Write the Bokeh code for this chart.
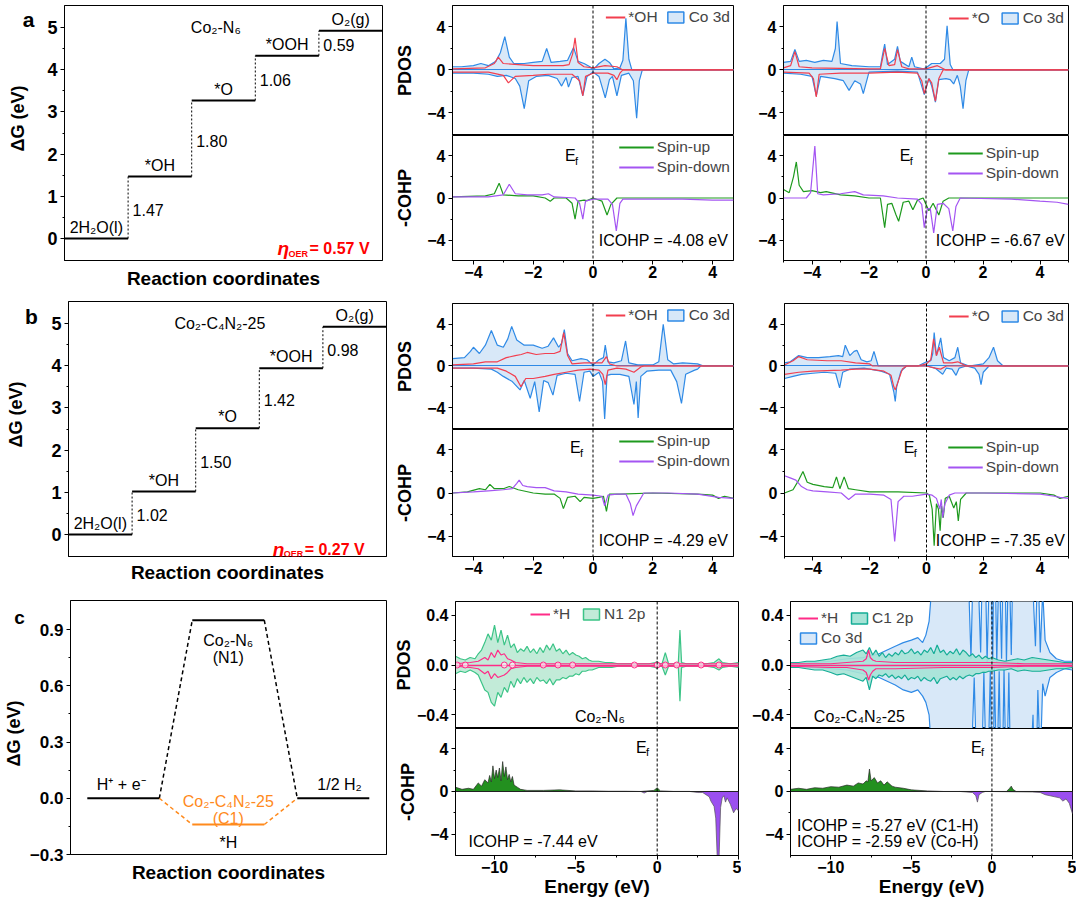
import numpy as np
from bokeh.plotting import figure
from bokeh.models import Label, Span, Legend, LegendItem, FixedTicker, PrintfTickFormatter, Range1d
from bokeh.layouts import row, column
from bokeh.embed import file_html
from bokeh.resources import INLINE

# ------------------------------------------------------------------ data
OER_SPECIES = ["2H₂O(l)", "*OH", "*O", "*OOH", "O₂(g)"]
OER_A_LEVELS = [0.0, 1.47, 3.27, 4.33, 4.92]
OER_A_STEPS = ["1.47", "1.80", "1.06", "0.59"]
OER_A_ETA = "0.57"
OER_B_LEVELS = [0.0, 1.02, 2.52, 3.94, 4.92]
OER_B_STEPS = ["1.02", "1.50", "1.42", "0.98"]
OER_B_ETA = "0.27"

HER_START, HER_N1, HER_C1, HER_END = 0.0, 0.95, -0.14, 0.0

ICOHP_A_MID, ICOHP_A_RIGHT = "-4.08", "-6.67"
ICOHP_B_MID, ICOHP_B_RIGHT = "-4.29", "-7.35"
ICOHP_C_MID, ICOHP_C_RIGHT_C1, ICOHP_C_RIGHT_CO = "-7.44", "-5.27", "-2.59"

# panel a, Co2-N6 with *OH (energy, PDOS)
A_MID_CO_UP = [(-4.7,0.3),(-4.4,0.3),(-4.0,0.4),(-3.75,0.6),(-3.5,0.4),(-3.25,0.8),(-3.1,1.6),(-2.95,3.1),(-2.8,1.2),(-2.65,0.6),(-2.3,0.6),(-2.0,0.7),(-1.7,0.8),(-1.55,2.0),(-1.4,0.7),(-1.1,0.8),(-0.85,0.9),(-0.65,2.1),(-0.5,0.8),(-0.3,0.6),(-0.1,0.3),(0.0,0.0),(0.2,0.6),(0.4,1.0),(0.55,0.7),(0.7,0.1),(0.9,0.2),(1.0,0.9),(1.1,4.8),(1.2,1.0),(1.3,0.0),(4.7,0.0)]
A_MID_CO_DN = [(-4.7,-0.3),(-4.0,-0.3),(-3.5,-0.4),(-3.2,-0.6),(-2.9,-0.5),(-2.6,-0.8),(-2.45,-1.5),(-2.3,-3.6),(-2.15,-1.0),(-1.9,-0.6),(-1.5,-0.5),(-1.2,-0.8),(-1.05,-1.5),(-0.9,-0.7),(-0.82,-1.6),(-0.7,-0.7),(-0.5,-0.6),(-0.34,-2.4),(-0.2,-0.6),(0.0,-0.2),(0.2,-0.6),(0.41,-2.6),(0.55,-0.9),(0.65,-0.6),(0.8,-2.4),(0.95,-0.5),(1.2,-0.3),(1.35,-1.0),(1.46,-4.5),(1.55,-1.0),(1.65,0.0),(4.7,0.0)]
A_MID_ADS_UP = [(-4.7,0.1),(-3.6,0.2),(-3.3,0.6),(-3.17,1.2),(-3.0,0.6),(-2.5,0.5),(-2.0,0.4),(-1.5,0.4),(-1.0,0.4),(-0.8,0.5),(-0.68,1.5),(-0.6,3.0),(-0.5,0.7),(-0.3,0.3),(0.0,0.2),(0.4,0.4),(0.8,0.3),(1.0,0.0),(4.7,0.0)]
A_MID_ADS_DN = [(-4.7,-0.2),(-3.5,-0.2),(-3.0,-0.5),(-2.83,-1.2),(-2.6,-0.6),(-2.0,-0.5),(-1.5,-0.4),(-1.0,-0.4),(-0.7,-0.4),(-0.45,-1.0),(-0.34,-2.4),(-0.25,-0.6),(0.0,-0.3),(0.5,-0.3),(0.7,-0.5),(0.8,-0.9),(0.9,-0.3),(1.0,0.0),(4.7,0.0)]
A_MID_COHP_UP = [(-4.7,0.1),(-3.6,0.2),(-3.3,0.4),(-3.14,1.4),(-3.0,0.3),(-2.5,0.2),(-2.0,0.2),(-1.6,0.0),(-1.43,-0.3),(-1.3,0.0),(-0.9,0.0),(-0.7,-0.5),(-0.6,-2.0),(-0.5,-0.3),(-0.3,-0.2),(-0.2,-0.25),(0.0,0.0),(0.3,-0.3),(0.47,-1.6),(0.6,-0.6),(0.8,0.0),(4.7,0.0)]
A_MID_COHP_DN = [(-4.7,0.1),(-3.5,0.1),(-3.0,0.3),(-2.8,1.3),(-2.6,0.4),(-2.2,0.3),(-1.7,0.3),(-1.49,0.4),(-1.3,0.1),(-0.6,0.0),(-0.45,-0.5),(-0.34,-2.0),(-0.25,-0.3),(0.0,-0.1),(0.5,-0.1),(0.65,-0.6),(0.78,-3.1),(0.9,-0.5),(1.0,-0.1),(2.0,-0.1),(3.0,-0.1),(4.0,-0.2),(4.7,-0.2)]

# panel a, Co2-N6 with *O
A_RIGHT_CO_UP = [(-5.0,0.7),(-4.75,0.8),(-4.6,1.9),(-4.45,0.8),(-4.2,0.9),(-3.9,0.7),(-3.6,0.9),(-3.3,0.8),(-3.18,2.0),(-3.12,4.5),(-3.0,0.6),(-2.6,0.4),(-2.0,0.3),(-1.6,0.3),(-1.52,1.5),(-1.45,2.4),(-1.35,0.5),(-1.1,1.0),(-1.0,2.2),(-0.9,0.8),(-0.6,0.3),(-0.5,1.2),(-0.4,0.3),(-0.1,0.1),(0.0,0.2),(0.2,0.6),(0.5,0.6),(0.65,1.0),(0.74,4.1),(0.85,0.5),(0.95,0.0),(5.0,0.0)]
A_RIGHT_CO_DN = [(-5.0,-0.3),(-4.4,-0.4),(-4.0,-0.6),(-3.85,-2.4),(-3.7,-0.6),(-3.2,-0.8),(-2.9,-1.0),(-2.7,-1.9),(-2.5,-1.0),(-2.3,-1.3),(-2.2,-2.2),(-2.0,-0.2),(-1.0,-0.1),(-0.3,-0.2),(-0.06,-2.3),(0.1,-0.8),(0.2,-1.5),(0.33,-3.0),(0.45,-0.9),(0.7,-0.8),(0.85,-0.9),(0.97,-1.3),(1.1,-0.5),(1.2,-1.5),(1.3,-3.6),(1.4,-1.0),(1.5,0.0),(5.0,0.0)]
A_RIGHT_ADS_UP = [(-5.0,0.2),(-4.75,0.4),(-4.6,1.7),(-4.45,0.3),(-4.0,0.2),(-2.0,0.1),(-1.6,0.1),(-1.45,2.0),(-1.3,0.4),(-1.1,0.5),(-1.0,1.9),(-0.85,0.3),(-0.6,0.1),(0.0,0.1),(0.4,0.4),(0.7,0.0),(5.0,0.0)]
A_RIGHT_ADS_DN = [(-5.0,-0.2),(-4.1,-0.3),(-3.95,-0.8),(-3.85,-2.5),(-3.75,-0.4),(-3.0,-0.3),(-2.0,-0.3),(-1.0,-0.2),(-0.3,-0.3),(-0.15,-1.0),(-0.06,-2.2),(0.1,-0.8),(0.2,-1.2),(0.33,-2.9),(0.45,-0.8),(0.6,0.0),(5.0,0.0)]
A_RIGHT_COHP_UP = [(-5.0,0.8),(-4.8,0.5),(-4.65,2.0),(-4.55,3.4),(-4.45,1.2),(-4.3,0.6),(-4.0,0.7),(-3.7,0.5),(-3.5,0.6),(-3.0,0.3),(-2.5,0.2),(-2.0,0.0),(-1.6,0.0),(-1.45,-2.8),(-1.35,-0.6),(-1.2,-0.5),(-1.05,-1.6),(-0.96,-2.2),(-0.8,-0.4),(-0.6,-0.3),(-0.46,-1.1),(-0.3,-0.2),(-0.1,0.0),(0.1,-1.2),(0.25,-0.5),(0.45,-1.6),(0.6,-0.3),(0.8,0.0),(5.0,0.0)]
A_RIGHT_COHP_DN = [(-5.0,0.0),(-4.2,0.0),(-4.05,0.5),(-3.9,4.9),(-3.8,0.4),(-3.6,0.3),(-3.0,0.4),(-2.5,0.6),(-2.2,0.3),(-1.5,0.2),(-1.0,0.0),(-0.3,-0.1),(-0.15,-0.6),(-0.06,-2.8),(0.05,-1.0),(0.15,-1.0),(0.27,-3.3),(0.4,-0.6),(0.6,-0.5),(0.8,-1.0),(0.94,-3.1),(1.05,-0.8),(1.2,0.0),(3.0,-0.1),(4.0,-0.3),(4.6,-0.4),(5.0,-0.6)]

# panel b, Co2-C4N2-25 with *OH
B_MID_CO_UP = [(-4.7,0.7),(-4.3,0.8),(-4.1,1.4),(-4.0,1.8),(-3.8,1.2),(-3.6,2.0),(-3.4,3.4),(-3.2,2.0),(-3.0,1.8),(-2.85,2.6),(-2.72,3.8),(-2.55,2.5),(-2.3,2.0),(-2.0,2.0),(-1.7,1.7),(-1.5,1.9),(-1.32,2.7),(-1.15,1.8),(-1.05,2.2),(-0.96,3.5),(-0.85,1.2),(-0.7,0.5),(-0.4,0.7),(-0.2,0.6),(0.0,0.1),(0.2,0.6),(0.35,0.8),(0.41,2.0),(0.5,0.4),(0.7,0.3),(0.95,0.5),(1.09,2.4),(1.2,0.3),(1.5,0.1),(2.0,0.1),(2.2,0.4),(2.35,4.0),(2.5,0.6),(2.7,0.2),(3.0,0.3),(3.5,0.2),(3.7,0.0),(4.7,0.0)]
B_MID_CO_DN = [(-4.7,-0.2),(-4.0,-0.2),(-3.4,-0.3),(-3.2,-0.6),(-3.0,-1.0),(-2.7,-1.5),(-2.44,-2.3),(-2.3,-1.4),(-2.1,-3.1),(-1.95,-1.5),(-1.8,-4.4),(-1.65,-1.4),(-1.5,-1.6),(-1.34,-2.8),(-1.2,-0.9),(-0.9,-0.7),(-0.6,-0.8),(-0.45,-3.4),(-0.3,-0.6),(-0.1,-0.5),(0.0,-1.0),(0.2,-0.6),(0.32,-1.5),(0.39,-5.1),(0.47,-0.9),(0.6,-0.8),(0.9,-0.8),(1.2,-1.0),(1.37,-3.7),(1.45,-1.5),(1.51,-5.0),(1.6,-1.0),(1.8,-0.5),(2.2,-0.4),(2.6,-0.4),(2.8,-1.5),(2.96,-3.6),(3.1,-0.8),(3.4,-0.4),(3.5,-0.3),(3.6,0.0),(4.7,0.0)]
B_MID_ADS_UP = [(-4.7,0.1),(-4.0,0.2),(-3.6,0.4),(-3.2,0.4),(-2.9,0.8),(-2.6,1.0),(-2.4,1.1),(-2.2,1.3),(-1.9,1.1),(-1.6,1.2),(-1.3,1.2),(-1.1,1.4),(-0.98,3.2),(-0.85,1.0),(-0.7,0.2),(-0.3,0.3),(0.0,0.3),(0.3,0.3),(0.45,0.9),(0.55,0.2),(0.8,0.0),(4.7,0.0)]
B_MID_ADS_DN = [(-4.7,-0.2),(-3.2,-0.2),(-2.9,-0.5),(-2.6,-1.0),(-2.41,-2.0),(-2.25,-1.2),(-2.0,-1.2),(-1.6,-1.0),(-1.3,-0.8),(-0.9,-0.6),(-0.5,-0.4),(-0.1,-0.3),(0.2,-0.4),(0.33,-0.8),(0.41,-1.8),(0.5,-0.4),(0.8,-0.2),(1.1,-0.3),(1.37,-0.6),(1.6,-0.1),(1.7,0.0),(4.7,0.0)]
B_MID_COHP_UP = [(-4.7,0.0),(-4.2,0.1),(-3.8,0.4),(-3.6,0.3),(-3.45,0.8),(-3.3,0.4),(-3.0,0.4),(-2.8,0.6),(-2.5,0.3),(-2.0,0.0),(-1.6,-0.1),(-1.3,-0.1),(-1.1,-0.5),(-0.99,-1.45),(-0.85,-0.4),(-0.6,-0.3),(-0.43,-0.8),(-0.3,-0.4),(0.0,-0.5),(0.2,-0.4),(0.35,-0.3),(0.45,-1.7),(0.55,-0.1),(0.9,-0.1),(2.0,0.0),(3.5,-0.1),(4.0,-0.2),(4.2,-0.5),(4.4,-0.3),(4.7,-0.5)]
B_MID_COHP_DN = [(-4.7,0.0),(-4.0,0.1),(-3.5,0.2),(-3.0,0.3),(-2.7,0.4),(-2.55,0.9),(-2.47,1.2),(-2.35,0.7),(-2.2,0.6),(-1.9,0.5),(-1.6,0.5),(-1.3,0.2),(-0.9,0.1),(-0.5,-0.1),(0.0,-0.2),(0.3,-0.3),(0.39,-1.2),(0.5,-0.2),(0.8,-0.1),(1.1,-0.1),(1.25,-1.0),(1.34,-2.1),(1.45,-1.2),(1.7,0.0),(2.5,0.0),(3.5,-0.1),(4.2,-0.4),(4.7,-0.5)]

# panel b, Co2-C4N2-25 with *O
B_RIGHT_CO_UP = [(-5.0,0.3),(-4.8,0.4),(-4.5,1.0),(-4.2,0.8),(-3.8,0.8),(-3.4,0.9),(-3.1,1.0),(-2.95,0.9),(-2.86,2.0),(-2.7,1.0),(-2.55,1.4),(-2.45,1.5),(-2.3,0.6),(-2.1,0.4),(-1.95,0.5),(-1.85,1.4),(-1.7,0.0),(-1.0,0.0),(-0.3,0.0),(0.0,0.4),(0.15,0.5),(0.22,1.2),(0.27,3.2),(0.35,1.0),(0.42,1.8),(0.5,2.7),(0.6,0.8),(0.8,0.5),(1.0,0.8),(1.1,1.8),(1.2,0.3),(1.5,0.0),(2.0,0.2),(2.2,0.8),(2.36,1.8),(2.5,0.5),(2.7,0.0),(5.0,0.0)]
B_RIGHT_CO_DN = [(-5.0,-1.2),(-4.7,-1.0),(-4.4,-0.8),(-4.0,-0.7),(-3.6,-0.6),(-3.2,-0.7),(-3.06,-2.1),(-2.95,-0.6),(-2.7,-0.3),(-2.2,-0.2),(-1.6,-0.5),(-1.3,-0.8),(-1.15,-2.5),(-1.1,-3.4),(-1.05,-2.0),(-0.9,-0.5),(-0.7,0.0),(0.0,0.0),(0.3,-0.2),(0.57,-0.8),(0.7,-0.2),(0.9,-0.3),(1.04,-0.9),(1.15,-0.2),(1.4,0.0),(1.7,-0.2),(1.85,-0.8),(1.92,-1.8),(2.0,-0.6),(2.2,0.0),(5.0,0.0)]
B_RIGHT_ADS_UP = [(-5.0,0.1),(-4.7,0.5),(-4.5,0.9),(-4.2,0.6),(-3.5,0.5),(-3.0,0.5),(-2.5,0.3),(-2.0,0.2),(-1.9,0.0),(-0.3,0.0),(0.0,0.2),(0.15,0.6),(0.25,2.6),(0.35,1.0),(0.45,1.8),(0.6,0.3),(0.9,0.3),(1.1,0.4),(1.4,0.0),(5.0,0.0)]
B_RIGHT_ADS_DN = [(-5.0,-0.8),(-4.5,-0.6),(-4.0,-0.5),(-3.0,-0.4),(-2.5,-0.3),(-2.0,-0.3),(-1.5,-0.5),(-1.25,-0.9),(-1.15,-2.0),(-1.1,-2.3),(-1.0,-1.5),(-0.85,-0.3),(-0.7,0.0),(0.0,0.0),(0.3,-0.2),(0.5,-0.3),(0.7,0.0),(5.0,0.0)]
B_RIGHT_COHP_UP = [(-5.0,0.0),(-4.7,0.3),(-4.5,1.2),(-4.35,2.0),(-4.2,1.0),(-4.0,0.8),(-3.6,0.6),(-3.3,0.5),(-3.17,1.5),(-3.05,0.4),(-2.9,1.5),(-2.75,0.4),(-2.5,0.3),(-2.0,0.1),(-1.0,0.1),(0.0,0.0),(0.1,-0.2),(0.2,-1.5),(0.27,-4.9),(0.35,-1.0),(0.42,-1.5),(0.48,-3.5),(0.53,-1.2),(0.59,-2.3),(0.66,-0.5),(0.8,-0.3),(0.96,-1.4),(1.05,-0.8),(1.12,-2.6),(1.2,-0.6),(1.4,0.0),(4.0,0.0),(4.5,-0.2),(4.7,-0.5),(5.0,-0.3)]
B_RIGHT_COHP_DN = [(-5.0,1.6),(-4.8,1.4),(-4.6,1.2),(-4.4,0.6),(-4.2,0.3),(-4.0,0.2),(-3.5,0.1),(-3.0,0.0),(-2.74,-0.6),(-2.5,-0.1),(-2.0,-0.1),(-1.5,-0.2),(-1.25,-0.6),(-1.12,-4.5),(-1.0,-0.8),(-0.8,-0.3),(-0.5,-0.3),(0.0,-0.1),(0.2,-0.2),(0.35,-0.5),(0.47,-1.5),(0.52,-0.6),(0.57,-2.3),(0.65,-1.0),(0.8,-0.2),(1.0,0.0),(2.0,0.0),(4.0,-0.1),(4.5,-0.3),(4.7,-0.4),(5.0,-0.5)]

# panel c, Co2-N6 (N1 site) with *H
C_MID_X = [-12.4,-12.1,-11.8,-11.5,-11.2,-11.0,-10.8,-10.6,-10.4,-10.2,-10.0,-9.8,-9.6,-9.4,-9.2,-9.0,-8.8,-8.6,-8.4,-8.2,-8.0,-7.8,-7.6,-7.4,-7.2,-7.0,-6.8,-6.6,-6.4,-6.2,-6.0,-5.8,-5.6,-5.4,-5.2,-5.0,-4.8,-4.6,-4.4,-4.2,-4.0,-3.6,-3.2,-2.8,-2.4,-2.0,-1.5,-1.0,-0.5,-0.1,0.0,0.1,0.3,0.5,0.7,1.0,1.3,1.4,1.5,1.8,2.5,3.0,3.5,3.8,4.0,4.5,5.0]
C_MID_N1_UP = [0.07,0.05,0.04,0.06,0.05,0.09,0.12,0.18,0.25,0.20,0.32,0.18,0.28,0.16,0.24,0.14,0.17,0.10,0.13,0.11,0.15,0.10,0.13,0.09,0.14,0.10,0.16,0.12,0.17,0.11,0.13,0.09,0.12,0.08,0.10,0.08,0.07,0.05,0.06,0.04,0.03,0.03,0.02,0.02,0.01,0.01,0.01,0.01,0.01,0.02,0.03,0.01,0.01,0.10,0.01,0.01,0.02,0.28,0.02,0.01,0.01,0.01,0.02,0.05,0.02,0.01,0.02]
C_MID_N1_DN = [-0.07,-0.05,-0.06,-0.04,-0.06,-0.08,-0.14,-0.20,-0.22,-0.30,-0.33,-0.22,-0.26,-0.18,-0.22,-0.13,-0.18,-0.11,-0.15,-0.10,-0.14,-0.11,-0.15,-0.10,-0.13,-0.12,-0.15,-0.11,-0.16,-0.12,-0.12,-0.10,-0.11,-0.09,-0.09,-0.07,-0.08,-0.05,-0.05,-0.04,-0.04,-0.02,-0.02,-0.02,-0.01,-0.01,-0.01,-0.01,-0.01,-0.02,-0.03,-0.01,-0.01,-0.08,-0.01,-0.01,-0.02,-0.29,-0.02,-0.01,-0.01,-0.01,-0.02,-0.04,-0.02,-0.01,-0.02]
C_MID_H_X = [-12.4,-11.5,-11.0,-10.6,-10.4,-10.2,-10.0,-9.8,-9.6,-9.4,-9.2,-9.0,-8.7,-8.0,-5.0,0.0,5.0]
C_MID_H_UP = [0.01,0.02,0.03,0.06,0.04,0.10,0.06,0.12,0.08,0.09,0.05,0.04,0.02,0.01,0.01,0.01,0.01]
C_MID_H_DN = [-0.01,-0.02,-0.03,-0.07,-0.05,-0.11,-0.07,-0.10,-0.09,-0.08,-0.06,-0.03,-0.02,-0.01,-0.01,-0.01,-0.01]
C_MID_H_MARKS = [-12.3,-11.8,-9.4,-8.9,-7.0,-6.1,-5.2,-1.4,0.0,0.5,1.2,2.7,3.8]
C_MID_COHP_UP = [(-12.4,0.4),(-12.0,0.2),(-11.6,0.3),(-11.3,0.2),(-11.0,0.8),(-10.8,0.5),(-10.6,1.1),(-10.4,0.8),(-10.3,1.5),(-10.2,0.9),(-10.1,2.4),(-10.0,1.2),(-9.9,2.0),(-9.8,1.3),(-9.7,2.2),(-9.6,1.0),(-9.5,2.8),(-9.4,1.4),(-9.3,2.3),(-9.2,1.1),(-9.1,1.6),(-9.0,0.9),(-8.9,1.4),(-8.8,0.6),(-8.6,0.4),(-8.4,0.2),(-8.0,0.1),(-7.0,0.1),(-6.0,0.15),(-5.0,0.05),(-4.0,0.05),(-3.0,0.02),(-2.0,0.02),(-1.0,0.0),(-0.2,0.1),(0.0,0.35),(0.2,0.05),(1.0,0.0),(2.0,0.0)]
C_MID_COHP_DN = [(-1.0,0.0),(-0.8,-0.15),(-0.6,0.0),(2.0,0.0),(2.5,-0.1),(2.8,-0.1),(3.0,-0.3),(3.2,-0.5),(3.3,-0.9),(3.5,-1.4),(3.6,-2.5),(3.7,-6.5),(3.8,-6.5),(3.9,-1.5),(4.0,-0.6),(4.1,-0.4),(4.2,-1.0),(4.3,-0.6),(4.5,-1.2),(4.7,-2.0),(4.85,-1.6),(5.0,-1.8)]

# panel c, Co2-C4N2-25 (C1 site) with *H
C_RIGHT_CO_X = [-12.5,-11.0,-10.0,-9.0,-8.0,-7.0,-6.5,-6.0,-5.5,-5.0,-4.6,-4.3,-4.1,-3.9,-3.75,-3.6,-3.4,-3.2,-3.0,-2.9,-2.7,-2.4,-2.0,-1.6,-1.3,-1.1,-0.9,-0.7,-0.5,-0.3,-0.1,0.05,0.15,0.3,0.45,0.6,0.75,0.9,1.05,1.2,1.35,1.5,1.7,2.0,2.3,2.55,2.7,2.85,3.0,3.15,3.3,3.6,4.0,4.5,5.0]
C_RIGHT_CO_UP = [0.01,0.02,0.03,0.05,0.06,0.09,0.12,0.15,0.18,0.2,0.22,0.18,0.24,0.35,0.6,0.9,1.2,1.5,1.0,1.4,1.8,2.0,1.6,1.3,0.05,1.2,0.9,0.1,1.5,0.02,1.1,0.03,1.3,0.02,0.9,0.05,1.4,0.02,1.0,0.08,1.2,0.9,1.5,1.8,1.0,0.6,0.15,0.9,0.1,0.6,0.2,0.1,0.05,0.03,0.03]
C_RIGHT_CO_DN = [-0.01,-0.02,-0.03,-0.04,-0.07,-0.1,-0.13,-0.16,-0.2,-0.22,-0.2,-0.25,-0.3,-0.4,-0.7,-1.0,-1.4,-1.2,-0.9,-1.5,-1.6,-1.8,-1.5,-1.2,-0.9,-0.1,-1.1,-1.3,-0.05,-1.2,-0.04,-1.4,-0.02,-1.0,-0.05,-1.3,-0.03,-1.1,-0.06,-1.2,-0.9,-1.3,-1.5,-1.6,-1.1,-0.4,-1.2,-0.2,-0.8,-0.15,-0.25,-0.1,-0.06,-0.03,-0.04]
C_RIGHT_C1_X = [-12.5,-12.0,-11.5,-11.0,-10.5,-10.0,-9.6,-9.2,-8.8,-8.4,-8.0,-7.8,-7.6,-7.4,-7.2,-7.0,-6.8,-6.6,-6.4,-6.2,-6.0,-5.8,-5.6,-5.4,-5.2,-5.0,-4.8,-4.6,-4.4,-4.2,-4.0,-3.8,-3.6,-3.4,-3.2,-3.0,-2.8,-2.6,-2.4,-2.2,-2.0,-1.8,-1.6,-1.4,-1.2,-1.0,-0.8,-0.6,-0.4,-0.2,0.0,0.4,0.8,1.2,1.6,2.0,2.5,3.0,3.5,4.0,4.5,5.0]
C_RIGHT_C1_UP = [0.02,0.02,0.03,0.03,0.04,0.05,0.07,0.08,0.07,0.10,0.12,0.09,0.14,0.08,0.12,0.07,0.10,0.06,0.09,0.07,0.10,0.08,0.12,0.09,0.10,0.13,0.09,0.11,0.08,0.12,0.10,0.14,0.09,0.16,0.10,0.12,0.08,0.11,0.09,0.13,0.08,0.12,0.10,0.07,0.09,0.06,0.08,0.05,0.07,0.05,0.06,0.04,0.03,0.04,0.05,0.04,0.06,0.05,0.04,0.03,0.02,0.02]
C_RIGHT_C1_DN = [-0.02,-0.02,-0.03,-0.04,-0.04,-0.06,-0.08,-0.07,-0.09,-0.11,-0.13,-0.10,-0.20,-0.09,-0.11,-0.08,-0.09,-0.07,-0.10,-0.08,-0.11,-0.09,-0.11,-0.08,-0.12,-0.10,-0.11,-0.09,-0.13,-0.10,-0.12,-0.13,-0.10,-0.15,-0.11,-0.10,-0.09,-0.12,-0.10,-0.12,-0.09,-0.11,-0.09,-0.08,-0.09,-0.07,-0.07,-0.06,-0.06,-0.05,-0.05,-0.04,-0.04,-0.03,-0.05,-0.04,-0.05,-0.05,-0.04,-0.03,-0.03,-0.02]
C_RIGHT_H_X = [-12.5,-10.0,-9.0,-8.0,-7.8,-7.65,-7.55,-7.4,-7.2,-6.0,-3.0,0.0,2.0,5.0]
C_RIGHT_H_UP = [0.01,0.01,0.02,0.03,0.05,0.12,0.06,0.04,0.03,0.02,0.02,0.02,0.01,0.01]
C_RIGHT_H_DN = [-0.01,-0.02,-0.02,-0.04,-0.06,-0.12,-0.08,-0.05,-0.03,-0.03,-0.02,-0.02,-0.01,-0.01]
C_RIGHT_COHP_UP = [(-12.5,0.2),(-12.0,0.3),(-11.5,0.2),(-11.0,0.35),(-10.5,0.3),(-10.0,0.45),(-9.5,0.4),(-9.0,0.6),(-8.6,0.5),(-8.3,0.8),(-8.0,0.7),(-7.8,1.0),(-7.7,0.9),(-7.6,2.1),(-7.5,1.0),(-7.3,1.3),(-7.1,0.8),(-6.9,1.0),(-6.7,0.6),(-6.5,0.9),(-6.2,0.5),(-6.0,0.4),(-5.5,0.3),(-5.0,0.15),(-4.0,0.05),(-3.0,0.0),(-1.0,0.0),(0.9,0.0),(1.1,0.3),(1.2,0.5),(1.3,0.2),(1.5,0.0),(3.0,0.0)]
C_RIGHT_COHP_DN = [(-2.0,0.0),(-1.2,-0.1),(-1.0,-0.4),(-0.9,-1.0),(-0.8,-0.3),(-0.6,-0.1),(-0.4,0.0),(2.5,-0.05),(3.0,-0.1),(3.3,-0.3),(3.6,-0.4),(3.9,-0.5),(4.2,-0.6),(4.4,-0.9),(4.6,-0.7),(4.8,-1.1),(4.9,-1.6),(5.0,-2.1)]

# ------------------------------------------------------------------ style
FONT = "Liberation Sans"
CO_LINE, CO_FILL = "#2f8ae6", "#d8e8f8"
ADS_RED = "#f23f4f"
SPIN_UP, SPIN_DN = "#1e9a1e", "#a455f2"
N1_LINE, N1_FILL = "#3cc487", "#c2ebd8"
H_PINK = "#ff2b87"
C1_LINE, C1_FILL = "#16ad97", "#a6e3d6"
G_FILL, P_FILL = "#23901f", "#9b4ff0"
ORANGE = "#ff8a1c"
ETA_RED = "#ff0000"
TXT = "16px"
MINUS = "\u2212"


def unzip(pairs):
    return [a for a, _ in pairs], [b for _, b in pairs]


def neg_labels(ticks, fmt="{:g}"):
    return {t: MINUS + fmt.format(-t) for t in ticks if t < 0}


def base(xr, yr, fw, fh, bl, br, bt, bb, xaxis=True, yaxis=True, tick_size="16px"):
    p = figure(x_range=xr, y_range=yr, frame_width=fw, frame_height=fh,
               min_border_left=bl, min_border_right=br, min_border_top=bt, min_border_bottom=bb,
               x_axis_location="below" if xaxis else None,
               y_axis_location="left" if yaxis else None,
               output_backend="svg", toolbar_location=None, title=None)
    p.grid.visible = False
    p.outline_line_color = "black"
    p.outline_line_width = 1
    p.background_fill_color = "white"
    p.border_fill_color = "white"
    for ax in p.axis:
        ax.axis_line_color = "black"
        ax.major_tick_line_color = "black"
        ax.minor_tick_line_color = "black"
        ax.major_tick_out = 4
        ax.major_tick_in = 0
        ax.minor_tick_out = 2
        ax.minor_tick_in = 0
        ax.major_label_standoff = 3
        ax.major_label_text_font = FONT
        ax.major_label_text_font_style = "bold"
        ax.major_label_text_font_size = tick_size
        ax.major_label_text_color = "black"
        ax.axis_label_text_font = FONT
        ax.axis_label_text_font_style = "bold"
        ax.axis_label_text_font_size = "18px"
        ax.axis_label_text_color = "black"
    return p


def add_text(p, x, y, s, size=TXT, color="black", style="normal", align="left",
             baseline="middle", xo=0, yo=0, **kw):
    p.add_layout(Label(x=x, y=y, text=s, text_font=FONT, text_font_size=size,
                       text_color=color, text_font_style=style, text_align=align,
                       text_baseline=baseline, x_offset=xo, y_offset=yo, **kw))


def add_ef(p, x, y):
    add_text(p, x, y, "E", size="16px")
    add_text(p, x, y, "f", size="11px", xo=10, yo=-5)


def box_item(p, label, fill, line):
    r = p.quad(left=[np.nan], right=[np.nan], top=[np.nan], bottom=[np.nan],
               fill_color=fill, line_color=line, line_width=1.5)
    return LegendItem(label=label, renderers=[r])


def line_item(p, label, color, width=2):
    r = p.line(x=[np.nan], y=[np.nan], line_color=color, line_width=width)
    return LegendItem(label=label, renderers=[r])


def add_legend(p, items, location, orientation="horizontal", glyph_w=20, spacing=8, margin=3):
    lg = Legend(items=items, location=location, orientation=orientation,
                glyph_width=glyph_w, glyph_height=14, label_standoff=3, spacing=spacing,
                padding=1, margin=margin, background_fill_alpha=0, border_line_alpha=0,
                label_text_font=FONT, label_text_font_size="15.5px", label_height=16)
    p.add_layout(lg)


def side_fig(width, height, letter, letter_xy, ylabel_xy, letter_size="21px"):
    # narrow strip left of a diagram: panel letter and the vertical axis title
    p = figure(x_range=Range1d(0, width), y_range=Range1d(height, 0),
               frame_width=width, frame_height=height,
               min_border_left=0, min_border_right=0, min_border_top=0, min_border_bottom=0,
               x_axis_location=None, y_axis_location=None,
               output_backend="svg", toolbar_location=None, title=None)
    p.outline_line_color = None
    p.grid.visible = False
    p.background_fill_color = "white"
    p.border_fill_color = "white"
    add_text(p, letter_xy[0], letter_xy[1], letter, size=letter_size, style="bold", align="center")
    add_text(p, ylabel_xy[0], ylabel_xy[1], "ΔG (eV)", size="18px", style="bold", align="center",
             angle=90, angle_units="deg")
    return p


# ------------------------------------------------------------------ OER diagrams
def oer_fig(levels, steps, title, eta, eta_xy, bt, fh, bb, xlab_s):
    p = base(Range1d(0, 5), Range1d(-0.52, 5.52), 318, fh, 20, 4, bt, bb, tick_size="18px")
    p.yaxis.ticker = FixedTicker(ticks=[0, 1, 2, 3, 4, 5], minor_ticks=[0.5, 1.5, 2.5, 3.5, 4.5])
    p.xaxis.ticker = FixedTicker(ticks=[])
    p.xaxis.major_tick_out = 0
    p.xaxis.minor_tick_out = 0
    p.xaxis.major_label_standoff = 0
    p.xaxis.axis_label = "Reaction coordinates"
    p.xaxis.axis_label_text_font_size = "19px"
    p.xaxis.axis_label_standoff = xlab_s

    idx = list(range(len(levels)))
    p.segment(x0=idx, y0=levels, x1=[i + 1 for i in idx], y1=levels, line_color="black", line_width=2)
    p.segment(x0=idx[1:], y0=levels[:-1], x1=idx[1:], y1=levels[1:],
              line_color="black", line_width=1, line_dash="2 2")
    for i, (lv, sp) in enumerate(zip(levels, OER_SPECIES)):
        add_text(p, i + 0.5, lv + 0.27, sp, align="center")
    for i, st in enumerate(steps):
        lo, hi = levels[i], levels[i + 1]
        add_text(p, i + 1.07, (lo + hi) / 2 - 0.05, st)
    add_text(p, 2.38, 5.0, title, align="center")
    ex, ey = eta_xy
    add_text(p, ex, ey, "η", size="19px", color=ETA_RED, style="bold italic")
    add_text(p, ex, ey, "OER", size="9px", color=ETA_RED, style="bold", xo=11, yo=-5)
    add_text(p, ex, ey, "= " + eta + " V", size="16px", color=ETA_RED, style="bold", xo=32)
    return p


def her_fig():
    p = base(Range1d(-0.16, 2.85), Range1d(-0.3, 1.055), 316, 254, 42, 4, 15, 47, tick_size="17px")
    hticks = [-0.3, 0.0, 0.3, 0.6, 0.9]
    p.yaxis.ticker = FixedTicker(ticks=hticks, minor_ticks=[-0.15, 0.15, 0.45, 0.75])
    p.yaxis.formatter = PrintfTickFormatter(format="%.1f")
    p.yaxis.major_label_overrides = neg_labels(hticks, "{:.1f}")
    p.xaxis.ticker = FixedTicker(ticks=[])
    p.xaxis.major_tick_out = 0
    p.xaxis.minor_tick_out = 0
    p.xaxis.major_label_standoff = 0
    p.xaxis.axis_label = "Reaction coordinates"
    p.xaxis.axis_label_text_font_size = "19px"
    p.xaxis.axis_label_standoff = 7

    slots, w = [0, 1, 2], 0.686
    lv = [HER_START, HER_N1, HER_END]
    p.segment(x0=[slots[0] + w, slots[1] + w], y0=[HER_START, HER_N1], x1=[slots[1], slots[2]],
              y1=[HER_N1, HER_END], line_color="black", line_width=1.5, line_dash="4 3")
    p.segment(x0=[slots[0] + w, slots[1] + w], y0=[HER_START, HER_C1], x1=[slots[1], slots[2]],
              y1=[HER_C1, HER_END], line_color=ORANGE, line_width=1.5, line_dash="4 3")
    p.segment(x0=slots, y0=lv, x1=[s + w for s in slots], y1=lv, line_color="black", line_width=2)
    p.segment(x0=[slots[1]], y0=[HER_C1], x1=[slots[1] + w], y1=[HER_C1], line_color=ORANGE, line_width=2)

    cx = slots[1] + w / 2
    add_text(p, cx, 0.84, "Co₂-N₆", size="16px", align="center")
    add_text(p, cx, 0.75, "(N1)", size="16px", align="center")
    add_text(p, cx, -0.015, "Co₂-C₄N₂-25", size="16px", color=ORANGE, align="center")
    add_text(p, cx, -0.11, "(C1)", size="16px", color=ORANGE, align="center")
    add_text(p, cx, -0.235, "*H", size="16px", align="center")
    add_text(p, slots[0] + w / 2 - 0.02, 0.075, "H⁺ + e⁻", size="16px", align="center")
    add_text(p, slots[2] + w / 2 + 0.06, 0.075, "1/2 H₂", size="16px", align="center")
    return p


# ------------------------------------------------------------------ PDOS / COHP columns
def dos_pair(xr, xt, xminor, pr, pt, pminor, pfmt, cr, fw, bl, br, bt, fhp, fhc, bb,
             ylabels, ps, cs, xlabel=None):
    xrange_ = Range1d(*xr)
    p1 = base(xrange_, Range1d(*pr), fw, fhp, bl, br, bt, 0, xaxis=False)
    p2 = base(xrange_, Range1d(*cr), fw, fhc, bl, br, 0, bb)
    p1.yaxis.ticker = FixedTicker(ticks=pt, minor_ticks=pminor)
    if pfmt:
        p1.yaxis.formatter = PrintfTickFormatter(format=pfmt)
        p1.yaxis.major_label_overrides = neg_labels(pt, "{:.1f}")
    else:
        p1.yaxis.major_label_overrides = neg_labels(pt)
    p2.yaxis.ticker = FixedTicker(ticks=[-4, 0, 4], minor_ticks=[-2, 2])
    p2.yaxis.major_label_overrides = neg_labels([-4, 0, 4])
    p2.xaxis.ticker = FixedTicker(ticks=xt, minor_ticks=xminor)
    p2.xaxis.major_label_overrides = neg_labels(xt)
    p2.xaxis.major_label_standoff = 1
    if ylabels:
        p1.yaxis.axis_label = "PDOS"
        p1.yaxis.axis_label_standoff = ps
        p2.yaxis.axis_label = "-COHP"
        p2.yaxis.axis_label_standoff = cs
    if xlabel:
        p2.xaxis.axis_label = xlabel
        p2.xaxis.axis_label_text_font_size = "19px"
        p2.xaxis.axis_label_standoff = 0
    return p1, p2


def ef_lines(p1, p2):
    for p in (p1, p2):
        p.add_layout(Span(location=0, dimension="height", line_color="black",
                          line_dash="3 2", line_width=1))


def draw_pdos_ab(p, co_up, co_dn, ads_up, ads_dn, ads_label, margin):
    for pairs in (co_up, co_dn):
        x, y = unzip(pairs)
        p.varea(x=x, y1=0, y2=y, fill_color=CO_FILL)
    p.hspan(y=[0], line_color=CO_LINE, line_width=1)
    for pairs in (co_up, co_dn):
        x, y = unzip(pairs)
        p.line(x, y, line_color=CO_LINE, line_width=1.2)
    for pairs in (ads_up, ads_dn):
        x, y = unzip(pairs)
        p.line(x, y, line_color=ADS_RED, line_width=1.2)
    items = [line_item(p, ads_label, ADS_RED), box_item(p, "Co 3d", CO_FILL, CO_LINE)]
    add_legend(p, items, "top_right", margin=margin)


def draw_cohp_ab(p, up, dn, margin):
    x, y = unzip(up)
    p.line(x, y, line_color=SPIN_UP, line_width=1.2)
    x, y = unzip(dn)
    p.line(x, y, line_color=SPIN_DN, line_width=1.2)
    add_legend(p, [line_item(p, "Spin-up", SPIN_UP), line_item(p, "Spin-down", SPIN_DN)],
               "top_right", orientation="vertical", glyph_w=35, spacing=2, margin=margin)


def draw_cohp_c(p, up, dn):
    x, y = unzip(up)
    p.varea(x=x, y1=0, y2=y, fill_color=G_FILL)
    p.line(x, y, line_color="#2a2a2a", line_width=0.7)
    x, y = unzip(dn)
    p.varea(x=x, y1=0, y2=y, fill_color=P_FILL)
    p.line(x, y, line_color="#555555", line_width=0.7)
    p.hspan(y=[0], line_color="#222222", line_width=1)


AB_XT, AB_XMINOR = [-4, -2, 0, 2, 4], [-5, -3, -1, 1, 3, 5]
PD_T, PD_MINOR = [-4, 0, 4], [-2, 2]

# ---- row a
a_side = side_fig(44, 290, "a", (28, 14), (17, 113))
a_left = oer_fig(OER_A_LEVELS, OER_A_STEPS, "Co₂-N₆", OER_A_ETA, (3.35, -0.24),
                 bt=5, fh=255, bb=30, xlab_s=7)
am1, am2 = dos_pair((-4.7, 4.7), AB_XT, AB_XMINOR, (-6.1, 6.0), PD_T, PD_MINOR, None, (-5.9, 5.9),
                    281, 66, 4, 5, 130, 125, 30, True, 9, 9)
draw_pdos_ab(am1, A_MID_CO_UP, A_MID_CO_DN, A_MID_ADS_UP, A_MID_ADS_DN, "*OH", 2)
draw_cohp_ab(am2, A_MID_COHP_UP, A_MID_COHP_DN, 2)
ef_lines(am1, am2)
add_ef(am2, -0.94, 4.0)
add_text(am2, 4.52, -4.0, "ICOHP = " + ICOHP_A_MID + " eV", align="right")

ar1, ar2 = dos_pair((-5, 5), AB_XT, AB_XMINOR, (-6.1, 6.0), PD_T, PD_MINOR, None, (-5.9, 5.9),
                    285, 46, 4, 5, 130, 125, 30, False, 0, 0)
draw_pdos_ab(ar1, A_RIGHT_CO_UP, A_RIGHT_CO_DN, A_RIGHT_ADS_UP, A_RIGHT_ADS_DN, "*O", 3)
draw_cohp_ab(ar2, A_RIGHT_COHP_UP, A_RIGHT_COHP_DN, 8)
ef_lines(ar1, ar2)
add_ef(ar2, -0.92, 4.0)
add_text(ar2, 4.88, -4.0, "ICOHP = " + ICOHP_A_RIGHT + " eV", align="right")

# ---- row b
b_side = side_fig(48, 292, "b", (31, 15), (15, 113))
b_left = oer_fig(OER_B_LEVELS, OER_B_STEPS, "Co₂-C₄N₂-25", OER_B_ETA, (3.21, -0.35),
                 bt=10, fh=255, bb=27, xlab_s=5)
bm1, bm2 = dos_pair((-4.7, 4.7), AB_XT, AB_XMINOR, (-6.1, 6.0), PD_T, PD_MINOR, None, (-5.9, 5.9),
                    281, 62, 4, 12, 126, 127, 27, True, 9, 9)
draw_pdos_ab(bm1, B_MID_CO_UP, B_MID_CO_DN, B_MID_ADS_UP, B_MID_ADS_DN, "*OH", 2)
draw_cohp_ab(bm2, B_MID_COHP_UP, B_MID_COHP_DN, 2)
ef_lines(bm1, bm2)
add_ef(bm2, -0.77, 4.2)
add_text(bm2, 4.52, -4.45, "ICOHP = " + ICOHP_B_MID + " eV", align="right")

br1, br2 = dos_pair((-5, 5), AB_XT, AB_XMINOR, (-6.1, 6.0), PD_T, PD_MINOR, None, (-5.9, 5.9),
                    284, 47, 4, 12, 126, 127, 27, False, 0, 0)
draw_pdos_ab(br1, B_RIGHT_CO_UP, B_RIGHT_CO_DN, B_RIGHT_ADS_UP, B_RIGHT_ADS_DN, "*O", 3)
draw_cohp_ab(br2, B_RIGHT_COHP_UP, B_RIGHT_COHP_DN, 8)
ef_lines(br1, br2)
add_ef(br2, -0.8, 4.2)
add_text(br2, 4.88, -4.45, "ICOHP = " + ICOHP_B_RIGHT + " eV", align="right")

# ---- row c
c_side = side_fig(26, 316, "c", (19, 17), (13, 133), letter_size="19px")
c_left = her_fig()
C_XT, C_XMINOR = [-10, -5, 0, 5], [-12.5, -7.5, -2.5, 2.5]
cm1, cm2 = dos_pair((-12.4, 5), C_XT, C_XMINOR, (-0.51, 0.51), [-0.4, 0.0, 0.4], [-0.2, 0.2], "%.1f",
                    (-6.0, 5.9), 283, 64, 4, 16, 127, 127, 46, True, 0, 9, xlabel="Energy (eV)")
cm1.varea(x=C_MID_X, y1=C_MID_N1_DN, y2=C_MID_N1_UP, fill_color=N1_FILL)
cm1.hspan(y=[0], line_color=N1_LINE, line_width=1)
cm1.line(C_MID_X, C_MID_N1_UP, line_color=N1_LINE, line_width=1.2)
cm1.line(C_MID_X, C_MID_N1_DN, line_color=N1_LINE, line_width=1.2)
cm1.hspan(y=[0], line_color=H_PINK, line_width=1.5)
cm1.line(C_MID_H_X, C_MID_H_UP, line_color=H_PINK, line_width=1.2)
cm1.line(C_MID_H_X, C_MID_H_DN, line_color=H_PINK, line_width=1.2)
cm1.scatter(x=C_MID_H_MARKS, y=[0.0] * len(C_MID_H_MARKS), size=6, marker="circle",
            fill_color="white", fill_alpha=0.6, line_color=H_PINK, line_width=1)
add_legend(cm1, [line_item(cm1, "*H", H_PINK), box_item(cm1, "N1 2p", N1_FILL, N1_LINE)],
           (74, 104), margin=0)
draw_cohp_c(cm2, C_MID_COHP_UP, C_MID_COHP_DN)
ef_lines(cm1, cm2)
add_ef(cm2, -1.3, 4.15)
add_text(cm1, -5.06, -0.41, "Co₂-N₆")
add_text(cm2, -11.6, -4.7, "ICOHP = " + ICOHP_C_MID + " eV")

cr1, cr2 = dos_pair((-12.5, 5), C_XT, C_XMINOR, (-0.51, 0.51), [-0.4, 0.0, 0.4], [-0.2, 0.2], "%.1f",
                    (-6.0, 5.9), 282, 48, 4, 16, 127, 127, 46, False, 0, 0, xlabel="Energy (eV)")
cr1.varea(x=C_RIGHT_CO_X, y1=C_RIGHT_CO_DN, y2=C_RIGHT_CO_UP, fill_color=CO_FILL)
cr1.line(C_RIGHT_CO_X, C_RIGHT_CO_UP, line_color=CO_LINE, line_width=1.2)
cr1.line(C_RIGHT_CO_X, C_RIGHT_CO_DN, line_color=CO_LINE, line_width=1.2)
cr1.varea(x=C_RIGHT_C1_X, y1=C_RIGHT_C1_DN, y2=C_RIGHT_C1_UP, fill_color=C1_FILL, fill_alpha=0.9)
cr1.hspan(y=[0], line_color=C1_LINE, line_width=1)
cr1.line(C_RIGHT_C1_X, C_RIGHT_C1_UP, line_color=C1_LINE, line_width=1.2)
cr1.line(C_RIGHT_C1_X, C_RIGHT_C1_DN, line_color=C1_LINE, line_width=1.2)
cr1.hspan(y=[0], line_color=H_PINK, line_width=1.5)
cr1.line(C_RIGHT_H_X, C_RIGHT_H_UP, line_color=H_PINK, line_width=1.2)
cr1.line(C_RIGHT_H_X, C_RIGHT_H_DN, line_color=H_PINK, line_width=1.2)
add_legend(cr1, [line_item(cr1, "*H", H_PINK), box_item(cr1, "C1 2p", C1_FILL, C1_LINE)],
           "top_left", margin=7)
add_legend(cr1, [box_item(cr1, "Co 3d", CO_FILL, CO_LINE)], (7, 80), margin=0)
draw_cohp_c(cr2, C_RIGHT_COHP_UP, C_RIGHT_COHP_DN)
ef_lines(cr1, cr2)
add_ef(cr2, -1.3, 4.15)
add_text(cr1, -11.05, -0.41, "Co₂-C₄N₂-25")
add_text(cr2, -12.1, -3.2, "ICOHP = " + ICOHP_C_RIGHT_C1 + " eV (C1-H)")
add_text(cr2, -12.1, -4.7, "ICOHP = " + ICOHP_C_RIGHT_CO + " eV (Co-H)")

layout = column(
    row(a_side, a_left, column(am1, am2), column(ar1, ar2)),
    row(b_side, b_left, column(bm1, bm2), column(br1, br2)),
    row(c_side, c_left, column(cm1, cm2), column(cr1, cr2)),
)

open("out.html", "w").write(file_html(layout, INLINE))
